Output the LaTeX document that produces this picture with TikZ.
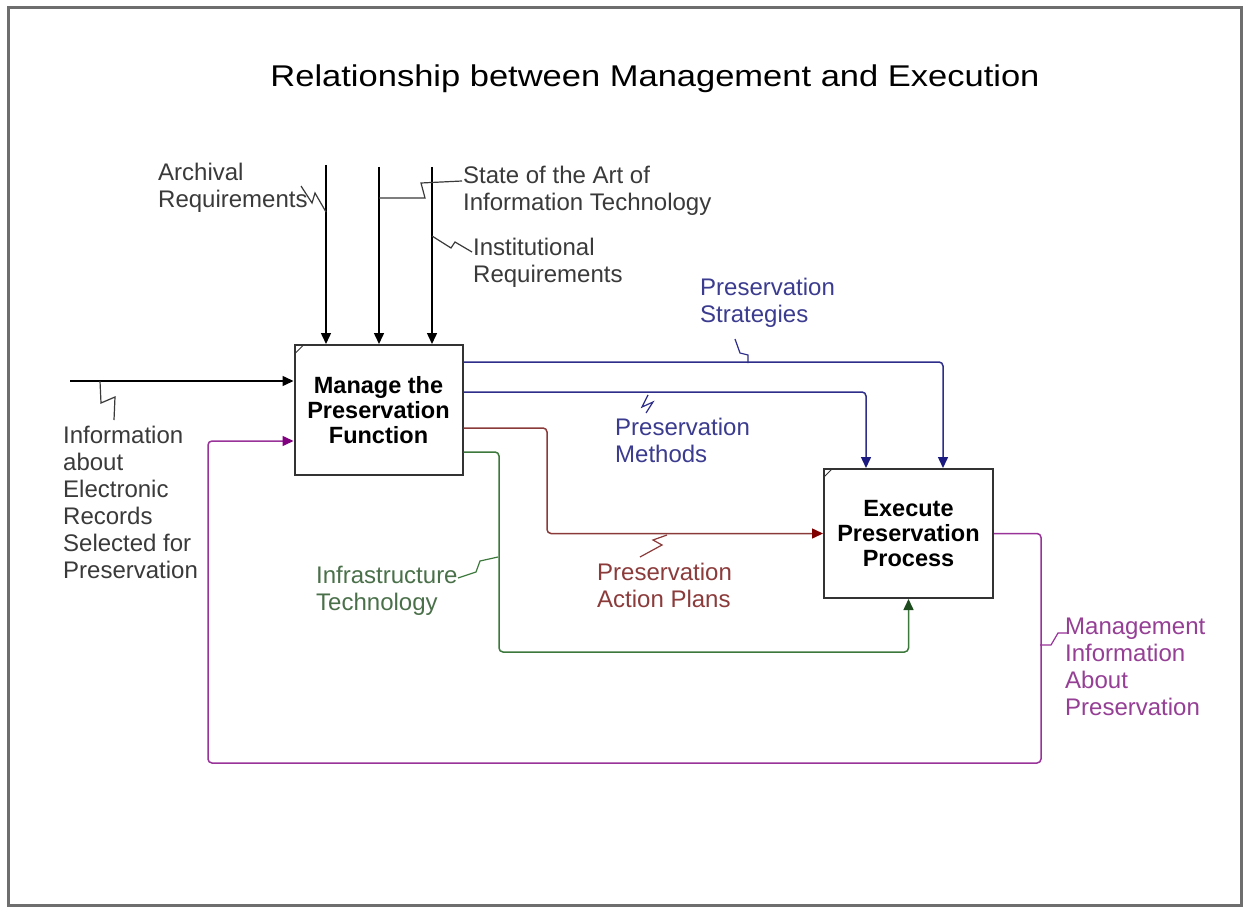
\documentclass[tikz,border=0pt]{standalone}
\usepackage{fontspec}
\setmainfont{Liberation Sans}
\newfontfamily\titlefont{Liberation Sans}[FakeStretch=1.15]
\usetikzlibrary{arrows.meta}

\definecolor{framegray}{HTML}{6E6E6E}
\definecolor{boxline}{HTML}{333333}
\definecolor{labelblack}{HTML}{3A3A3A}
\definecolor{navyline}{HTML}{2E2E8A}
\definecolor{navytip}{HTML}{1A1A80}
\definecolor{navytext}{HTML}{3B3B8F}
\definecolor{redline}{HTML}{8B3A3A}
\definecolor{redtip}{HTML}{800000}
\definecolor{redtext}{HTML}{8C3B3B}
\definecolor{greenline}{HTML}{3C783C}
\definecolor{greentip}{HTML}{1E4B1E}
\definecolor{greentext}{HTML}{4A704A}
\definecolor{purpleline}{HTML}{993399}
\definecolor{purpletip}{HTML}{800080}
\definecolor{purpletext}{HTML}{953F95}

\tikzset{
  activity/.style={draw=boxline, line width=2pt, fill=white, align=center,
    inner sep=0pt, font=\bfseries\fontsize{23.5}{25}\selectfont},
  lbl/.style={anchor=north west, align=left, inner sep=0pt,
    font=\fontsize{24}{27}\selectfont},
  flow/.style={line width=1.5pt, rounded corners=4pt},
  blackflow/.style={flow, draw=black, -{Triangle[width=10pt,length=11pt]}},
  navyflow/.style={flow, draw=navyline, -{Triangle[width=10pt,length=11pt,color=navytip]}},
  redflow/.style={flow, draw=redline, -{Triangle[width=10pt,length=11pt,color=redtip]}},
  greenflow/.style={flow, draw=greenline, -{Triangle[width=10pt,length=11pt,color=greentip]}},
  purpleflow/.style={flow, draw=purpleline, -{Triangle[width=10pt,length=11pt,color=purpletip]}},
  squiggle/.style={line width=1.2pt, line join=miter},
}

\begin{document}
\begin{tikzpicture}[x=1pt, y=-1pt]
  \useasboundingbox (0,0) rectangle (1244,909);
  \fill[white] (0,0) rectangle (1244,909);
  \draw[framegray, line width=3pt] (8,8) rectangle (1241,905);

  % title
  \node[anchor=base, inner sep=0pt, font=\titlefont\fontsize{30}{32}\selectfont]
    (title) at (655,87) {Relationship between Management and Execution};

  % activities
  \node[activity, minimum width=168pt, minimum height=130pt] (m) at (378.5,410)
    {Manage the\\Preservation\\Function};
  \node[activity, minimum width=169pt, minimum height=129pt] (e) at (908.5,533.5)
    {Execute\\Preservation\\Process};
  \draw[boxline, line width=1pt] ([xshift=1pt,yshift=-10pt]m.north west) -- ([xshift=10pt,yshift=-1pt]m.north west);
  \draw[boxline, line width=1pt] ([xshift=1pt,yshift=-9pt]e.north west) -- ([xshift=9pt,yshift=-1pt]e.north west);

  % controls entering from the top
  \coordinate (c1) at (326,165);
  \coordinate (c2) at (379,167);
  \coordinate (c3) at (432,167);
  \draw[blackflow] (c1) -- (c1 |- m.north);
  \draw[blackflow] (c2) -- (c2 |- m.north);
  \draw[blackflow] (c3) -- (c3 |- m.north);

  % input from the left
  \coordinate (in) at (70,381);
  \draw[blackflow] (in) -- (in -| m.west);

  % outputs of the management activity
  \draw[navyflow] ([yshift=-18pt]m.north east) -| ([xshift=34.5pt]e.north);
  \draw[navyflow] ([yshift=-48pt]m.north east) -| ([xshift=-42.5pt]e.north);
  \draw[redflow] ([yshift=-18pt]m.east) -- ++(83.5,0) |- (e.west);
  \draw[greenflow] ([yshift=-42pt]m.east) -- ++(35.5,0) -- ++(0,200) -| (e.south);

  % feedback loop
  \coordinate (fb) at (208,763);
  \draw[purpleflow] (e.east) -- ++(47,0) |- (fb) |- ([yshift=-31pt]m.west);

  % labels
  \node[lbl, text=labelblack] (arch) at (158,162.5) {Archival\\Requirements};
  \node[lbl, text=labelblack] (sota) at (463,165.5) {State of the Art of\\Information Technology};
  \node[lbl, text=labelblack] (inst) at (473,237.5) {Institutional\\Requirements};
  \node[lbl, text=labelblack] (info) at (63,425.5)
    {Information\\about\\Electronic\\Records\\Selected for\\Preservation};
  \node[lbl, text=navytext] (strat) at (700,277.5) {Preservation\\Strategies};
  \node[lbl, text=navytext] (meth) at (615,417.5) {Preservation\\Methods};
  \node[lbl, text=greentext] (infra) at (316,565.5) {Infrastructure\\Technology};
  \node[lbl, text=redtext] (plans) at (597,562.5) {Preservation\\Action Plans};
  \node[lbl, text=purpletext] (mgmt) at (1065,617.5)
    {Management\\Information\\About\\Preservation};

  % squiggles tying labels to their arrows
  \draw[squiggle, labelblack] (301,186) -- (312,203) -- (315,193) -- (326,212);
  \draw[squiggle, labelblack] (379,198) -- (425,198) -- (421,183) -- (462,181);
  \draw[squiggle, labelblack] (432,236) -- (451,248) -- (455,242) -- (472,252);
  \draw[squiggle, labelblack] (100,381) -- (101,403) -- (115,397) -- (114,420);
  \draw[squiggle, navyline] (748,363) -- (748,355) -- (740,353) -- (735,339);
  \draw[squiggle, navyline] (648,395) -- (642,407) -- (653,402) -- (646,413);
  \draw[squiggle, redline] (667,535) -- (653,540) -- (662,545) -- (640,557);
  \draw[squiggle, greenline] (498,557) -- (480,561) -- (476,572) -- (458,578);
  \draw[squiggle, purpleline] (1040,645) -- (1051,645) -- (1058,633) -- (1068,633);
\end{tikzpicture}
\end{document}
